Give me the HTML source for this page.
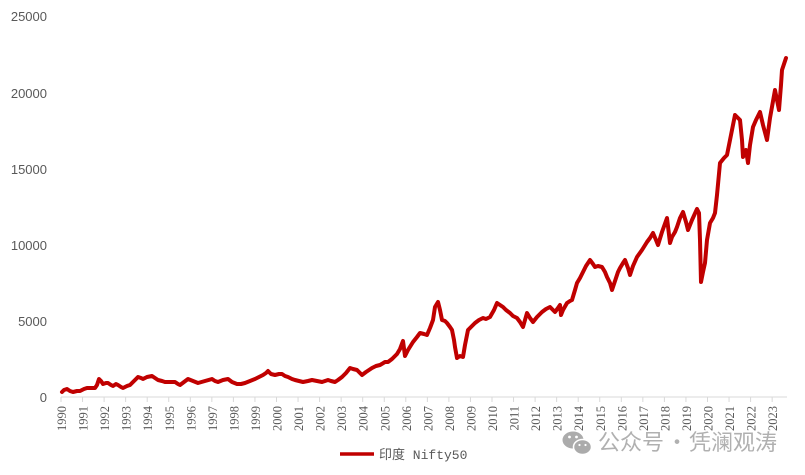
<!DOCTYPE html>
<html>
<head>
<meta charset="utf-8">
<style>
html,body{margin:0;padding:0;background:#fff;}
svg{display:block;}
</style>
</head>
<body>
<svg width="805" height="475" viewBox="0 0 805 475" xmlns="http://www.w3.org/2000/svg">
<rect width="805" height="475" fill="#fff"/>
<g font-family="'Liberation Sans', sans-serif" font-size="13" fill="#595959" text-anchor="end">
<text x="47" y="21">25000</text>
<text x="47" y="98">20000</text>
<text x="47" y="174">15000</text>
<text x="47" y="250">10000</text>
<text x="47" y="326">5000</text>
<text x="47" y="402">0</text>
</g>
<line x1="61" y1="397" x2="787" y2="397" stroke="#d9d9d9" stroke-width="1"/>
<path stroke="#d9d9d9" stroke-width="1" fill="none" d="M61,397V402 M82.55,397V402 M104.1,397V402 M125.65,397V402 M147.2,397V402 M168.75,397V402 M190.3,397V402 M211.85,397V402 M233.4,397V402 M254.95,397V402 M276.5,397V402 M298.05,397V402 M319.6,397V402 M341.15,397V402 M362.7,397V402 M384.25,397V402 M405.8,397V402 M427.35,397V402 M448.9,397V402 M470.45,397V402 M492,397V402 M513.55,397V402 M535.1,397V402 M556.65,397V402 M578.2,397V402 M599.75,397V402 M621.3,397V402 M642.85,397V402 M664.4,397V402 M685.95,397V402 M707.5,397V402 M729.05,397V402 M750.6,397V402 M772.15,397V402"/>
<g font-family="'Liberation Serif', serif" font-size="12.5" fill="#595959" text-anchor="end">
<text transform="translate(66,406) rotate(-90)">1990</text>
<text transform="translate(87.55,406) rotate(-90)">1991</text>
<text transform="translate(109.1,406) rotate(-90)">1992</text>
<text transform="translate(130.65,406) rotate(-90)">1993</text>
<text transform="translate(152.2,406) rotate(-90)">1994</text>
<text transform="translate(173.75,406) rotate(-90)">1995</text>
<text transform="translate(195.3,406) rotate(-90)">1996</text>
<text transform="translate(216.85,406) rotate(-90)">1997</text>
<text transform="translate(238.4,406) rotate(-90)">1998</text>
<text transform="translate(259.95,406) rotate(-90)">1999</text>
<text transform="translate(281.5,406) rotate(-90)">2000</text>
<text transform="translate(303.05,406) rotate(-90)">2001</text>
<text transform="translate(324.6,406) rotate(-90)">2002</text>
<text transform="translate(346.15,406) rotate(-90)">2003</text>
<text transform="translate(367.7,406) rotate(-90)">2004</text>
<text transform="translate(389.25,406) rotate(-90)">2005</text>
<text transform="translate(410.8,406) rotate(-90)">2006</text>
<text transform="translate(432.35,406) rotate(-90)">2007</text>
<text transform="translate(453.9,406) rotate(-90)">2008</text>
<text transform="translate(475.45,406) rotate(-90)">2009</text>
<text transform="translate(497,406) rotate(-90)">2010</text>
<text transform="translate(518.55,406) rotate(-90)">2011</text>
<text transform="translate(540.1,406) rotate(-90)">2012</text>
<text transform="translate(561.65,406) rotate(-90)">2013</text>
<text transform="translate(583.2,406) rotate(-90)">2014</text>
<text transform="translate(604.75,406) rotate(-90)">2015</text>
<text transform="translate(626.3,406) rotate(-90)">2016</text>
<text transform="translate(647.85,406) rotate(-90)">2017</text>
<text transform="translate(669.4,406) rotate(-90)">2018</text>
<text transform="translate(690.95,406) rotate(-90)">2019</text>
<text transform="translate(712.5,406) rotate(-90)">2020</text>
<text transform="translate(734.05,406) rotate(-90)">2021</text>
<text transform="translate(755.6,406) rotate(-90)">2022</text>
<text transform="translate(777.15,406) rotate(-90)">2023</text>
</g>
<polyline fill="none" stroke="#C00000" stroke-width="4" stroke-linejoin="round" stroke-linecap="round" points="62,392 64,390 67,389 70,391 73,392 77,391 80,391 84,389 87,388 91,388 95,388 97,385 99,379 101,381 103,384 106,383 108,383 111,385 113,386 116,384 118,385 121,387 123,388 127,386 130,385 134,381 138,377 141,378 143,379 147,377 152,376 155,378 158,380 162,381 165,382 170,382 175,382 178,384 180,385 184,382 188,379 193,381 198,383 205,381 212,379 215,381 218,382 223,380 228,379 232,382 237,384 241,384 245,383 250,381 255,379 259,377 263,375 266,373 268,371 271,374 275,375 279,374 282,374 285,376 288,377 292,379 295,380 299,381 303,382 308,381 312,380 317,381 322,382 325,381 328,380 331,381 335,382 338,380 342,377 346,373 350,368 353,369 357,370 360,373 362,375 366,372 372,368 376,366 380,365 385,362 388,362 392,359 397,354 400,349 403,341 405,356 408,350 413,342 417,337 420,333 424,334 427,335 430,328 433,320 435,307 438,302 440,310 442,320 445,321 447,323 450,327 452,330 454,340 455,347 457,358 460,356 463,357 465,345 468,330 471,327 475,323 479,320 483,318 486,319 490,317 494,310 497,303 500,305 503,307 506,310 510,313 513,316 517,318 520,322 523,327 525,320 527,313 530,318 533,322 537,317 542,312 546,309 550,307 553,310 555,312 558,308 560,305 561,315 563,310 567,303 570,301 572,300 575,290 577,283 580,278 583,272 586,266 590,260 593,264 595,267 598,266 602,267 605,272 607,277 610,283 612,290 615,281 618,272 620,268 623,263 625,260 628,268 630,275 633,266 637,257 642,250 647,242 650,238 653,233 656,240 658,245 662,232 667,218 670,243 672,237 675,232 677,227 680,218 683,212 686,222 688,230 692,220 697,209 699,213 700,240 701,282 703,272 705,263 707,240 710,223 713,218 715,213 717,195 720,163 724,158 727,155 731,135 735,115 738,118 740,120 742,140 743,157 746,150 748,163 750,145 753,127 756,120 760,112 763,125 767,140 770,118 775,90 777,100 779,110 781,85 782,70 784,64 786,58"/>
<line x1="340" y1="454" x2="374" y2="454" stroke="#C00000" stroke-width="3.5"/>
<text x="379" y="459" font-family="'Liberation Mono', 'Noto Sans CJK SC', monospace" font-size="13" fill="#595959">印度 Nifty50</text>
<g fill="#ababab">
<ellipse cx="573" cy="440" rx="10.5" ry="8.5"/>
<ellipse cx="582.5" cy="447" rx="9" ry="7.5" stroke="#fff" stroke-width="1.5"/>
<circle cx="569.5" cy="437" r="1.4" fill="#fff"/>
<circle cx="576.5" cy="437" r="1.4" fill="#fff"/>
<circle cx="579.5" cy="445" r="1.1" fill="#fff"/>
<circle cx="585.5" cy="445" r="1.1" fill="#fff"/>
</g>
<g font-family="'Noto Sans CJK SC', sans-serif" font-size="22" fill="#b0b0b0">
<text x="598" y="450">公众号</text>
<text x="666" y="450">·</text>
<text x="689" y="450">凭澜观涛</text>
</g>
</svg>
</body>
</html>
